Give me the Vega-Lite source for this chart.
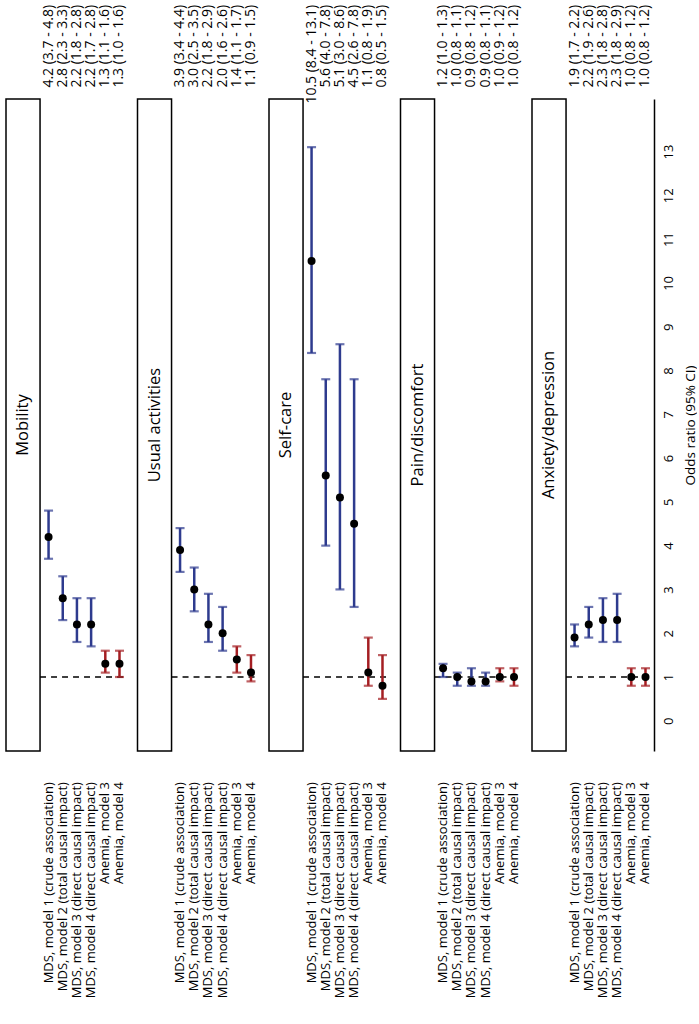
{
  "$schema": "https://vega.github.io/schema/vega-lite/v6.json",
  "autosize": {"type": "pad"},
  "padding": {"left": 5, "top": 4, "right": 0, "bottom": 0},
  "config": {"view": {"stroke": null}, "font": "Open Sans", "text": {"font": "Open Sans"}},
  "data": {"values": [
    {"dim": "Mobility", "row": 1, "label": "MDS, model 1 (crude association)", "group": "MDS", "or": 4.2, "lo": 3.7, "hi": 4.8, "ci": "4.2 (3.7 - 4.8)"},
    {"dim": "Mobility", "row": 2, "label": "MDS, model 2 (total causal impact)", "group": "MDS", "or": 2.8, "lo": 2.3, "hi": 3.3, "ci": "2.8 (2.3 - 3.3)"},
    {"dim": "Mobility", "row": 3, "label": "MDS, model 3 (direct causal impact)", "group": "MDS", "or": 2.2, "lo": 1.8, "hi": 2.8, "ci": "2.2 (1.8 - 2.8)"},
    {"dim": "Mobility", "row": 4, "label": "MDS, model 4 (direct causal impact)", "group": "MDS", "or": 2.2, "lo": 1.7, "hi": 2.8, "ci": "2.2 (1.7 - 2.8)"},
    {"dim": "Mobility", "row": 5, "label": "Anemia, model 3", "group": "Anemia", "or": 1.3, "lo": 1.1, "hi": 1.6, "ci": "1.3 (1.1 - 1.6)"},
    {"dim": "Mobility", "row": 6, "label": "Anemia, model 4", "group": "Anemia", "or": 1.3, "lo": 1.0, "hi": 1.6, "ci": "1.3 (1.0 - 1.6)"},
    {"dim": "Usual activities", "row": 1, "label": "MDS, model 1 (crude association)", "group": "MDS", "or": 3.9, "lo": 3.4, "hi": 4.4, "ci": "3.9 (3.4 - 4.4)"},
    {"dim": "Usual activities", "row": 2, "label": "MDS, model 2 (total causal impact)", "group": "MDS", "or": 3.0, "lo": 2.5, "hi": 3.5, "ci": "3.0 (2.5 - 3.5)"},
    {"dim": "Usual activities", "row": 3, "label": "MDS, model 3 (direct causal impact)", "group": "MDS", "or": 2.2, "lo": 1.8, "hi": 2.9, "ci": "2.2 (1.8 - 2.9)"},
    {"dim": "Usual activities", "row": 4, "label": "MDS, model 4 (direct causal impact)", "group": "MDS", "or": 2.0, "lo": 1.6, "hi": 2.6, "ci": "2.0 (1.6 - 2.6)"},
    {"dim": "Usual activities", "row": 5, "label": "Anemia, model 3", "group": "Anemia", "or": 1.4, "lo": 1.1, "hi": 1.7, "ci": "1.4 (1.1 - 1.7)"},
    {"dim": "Usual activities", "row": 6, "label": "Anemia, model 4", "group": "Anemia", "or": 1.1, "lo": 0.9, "hi": 1.5, "ci": "1.1 (0.9 - 1.5)"},
    {"dim": "Self-care", "row": 1, "label": "MDS, model 1 (crude association)", "group": "MDS", "or": 10.5, "lo": 8.4, "hi": 13.1, "ci": "10.5 (8.4 - 13.1)"},
    {"dim": "Self-care", "row": 2, "label": "MDS, model 2 (total causal impact)", "group": "MDS", "or": 5.6, "lo": 4.0, "hi": 7.8, "ci": "5.6 (4.0 - 7.8)"},
    {"dim": "Self-care", "row": 3, "label": "MDS, model 3 (direct causal impact)", "group": "MDS", "or": 5.1, "lo": 3.0, "hi": 8.6, "ci": "5.1 (3.0 - 8.6)"},
    {"dim": "Self-care", "row": 4, "label": "MDS, model 4 (direct causal impact)", "group": "MDS", "or": 4.5, "lo": 2.6, "hi": 7.8, "ci": "4.5 (2.6 - 7.8)"},
    {"dim": "Self-care", "row": 5, "label": "Anemia, model 3", "group": "Anemia", "or": 1.1, "lo": 0.8, "hi": 1.9, "ci": "1.1 (0.8 - 1.9)"},
    {"dim": "Self-care", "row": 6, "label": "Anemia, model 4", "group": "Anemia", "or": 0.8, "lo": 0.5, "hi": 1.5, "ci": "0.8 (0.5 - 1.5)"},
    {"dim": "Pain/discomfort", "row": 1, "label": "MDS, model 1 (crude association)", "group": "MDS", "or": 1.2, "lo": 1.0, "hi": 1.3, "ci": "1.2 (1.0 - 1.3)"},
    {"dim": "Pain/discomfort", "row": 2, "label": "MDS, model 2 (total causal impact)", "group": "MDS", "or": 1.0, "lo": 0.8, "hi": 1.1, "ci": "1.0 (0.8 - 1.1)"},
    {"dim": "Pain/discomfort", "row": 3, "label": "MDS, model 3 (direct causal impact)", "group": "MDS", "or": 0.9, "lo": 0.8, "hi": 1.2, "ci": "0.9 (0.8 - 1.2)"},
    {"dim": "Pain/discomfort", "row": 4, "label": "MDS, model 4 (direct causal impact)", "group": "MDS", "or": 0.9, "lo": 0.8, "hi": 1.1, "ci": "0.9 (0.8 - 1.1)"},
    {"dim": "Pain/discomfort", "row": 5, "label": "Anemia, model 3", "group": "Anemia", "or": 1.0, "lo": 0.9, "hi": 1.2, "ci": "1.0 (0.9 - 1.2)"},
    {"dim": "Pain/discomfort", "row": 6, "label": "Anemia, model 4", "group": "Anemia", "or": 1.0, "lo": 0.8, "hi": 1.2, "ci": "1.0 (0.8 - 1.2)"},
    {"dim": "Anxiety/depression", "row": 1, "label": "MDS, model 1 (crude association)", "group": "MDS", "or": 1.9, "lo": 1.7, "hi": 2.2, "ci": "1.9 (1.7 - 2.2)"},
    {"dim": "Anxiety/depression", "row": 2, "label": "MDS, model 2 (total causal impact)", "group": "MDS", "or": 2.2, "lo": 1.9, "hi": 2.6, "ci": "2.2 (1.9 - 2.6)"},
    {"dim": "Anxiety/depression", "row": 3, "label": "MDS, model 3 (direct causal impact)", "group": "MDS", "or": 2.3, "lo": 1.8, "hi": 2.8, "ci": "2.3 (1.8 - 2.8)"},
    {"dim": "Anxiety/depression", "row": 4, "label": "MDS, model 4 (direct causal impact)", "group": "MDS", "or": 2.3, "lo": 1.8, "hi": 2.9, "ci": "2.3 (1.8 - 2.9)"},
    {"dim": "Anxiety/depression", "row": 5, "label": "Anemia, model 3", "group": "Anemia", "or": 1.0, "lo": 0.8, "hi": 1.2, "ci": "1.0 (0.8 - 1.2)"},
    {"dim": "Anxiety/depression", "row": 6, "label": "Anemia, model 4", "group": "Anemia", "or": 1.0, "lo": 0.8, "hi": 1.2, "ci": "1.0 (0.8 - 1.2)"}
  ]},
  "facet": {"column": {"field": "dim", "type": "nominal", "sort": ["Mobility", "Usual activities", "Self-care", "Pain/discomfort", "Anxiety/depression"], "header": null}},
  "spacing": 9.5,
  "bounds": "flush",
  "spec": {
    "width": 122,
    "height": 652,
    "layer": [
      {
        "transform": [{"filter": "datum.row == 1"}],
        "mark": {"type": "rect", "fill": "white", "stroke": "black", "strokeWidth": 1.5},
        "encoding": {
          "x": {"datum": -2, "type": "quantitative", "scale": {"domain": [-2, 6.6], "nice": false, "zero": false}, "axis": null},
          "x2": {"datum": 0.4},
          "y": {"datum": 14.2, "type": "quantitative", "scale": {"domain": [-0.69, 14.2], "nice": false, "zero": false}},
          "y2": {"datum": -0.69}
        }
      },
      {
        "transform": [{"filter": "datum.row == 1"}],
        "mark": {"type": "text", "angle": 270, "align": "center", "baseline": "middle", "fontSize": 16.5, "color": "black"},
        "encoding": {
          "x": {"datum": -0.8, "type": "quantitative"},
          "y": {"datum": 6.755, "type": "quantitative"},
          "text": {"field": "dim"}
        }
      },
      {
        "transform": [{"filter": "datum.row == 1"}],
        "mark": {"type": "rule", "strokeDash": [6, 5], "strokeWidth": 1.5, "color": "black"},
        "encoding": {
          "x": {"datum": 0.4, "type": "quantitative"},
          "x2": {"datum": 6.6},
          "y": {"datum": 1, "type": "quantitative"}
        }
      },
      {
        "mark": {"type": "rule", "strokeWidth": 2.5},
        "encoding": {
          "x": {"field": "row", "type": "quantitative"},
          "y": {"field": "lo", "type": "quantitative"},
          "y2": {"field": "hi"},
          "color": {"field": "group", "type": "nominal", "scale": {"domain": ["MDS", "Anemia"], "range": ["#2E3B8E", "#A41E22"]}, "legend": null}
        }
      },
      {
        "mark": {"type": "tick", "orient": "horizontal", "size": 9, "thickness": 2.2},
        "encoding": {
          "x": {"field": "row", "type": "quantitative"},
          "y": {"field": "lo", "type": "quantitative"},
          "color": {"field": "group", "type": "nominal", "legend": null}
        }
      },
      {
        "mark": {"type": "tick", "orient": "horizontal", "size": 9, "thickness": 2.2},
        "encoding": {
          "x": {"field": "row", "type": "quantitative"},
          "y": {"field": "hi", "type": "quantitative"},
          "color": {"field": "group", "type": "nominal", "legend": null}
        }
      },
      {
        "mark": {"type": "point", "filled": true, "shape": "circle", "size": 64, "color": "black", "opacity": 1},
        "encoding": {
          "x": {"field": "row", "type": "quantitative"},
          "y": {"field": "or", "type": "quantitative",
                "axis": {"orient": "right", "title": "Odds ratio (95% CI)", "titleAngle": 270, "titleAlign": "center", "titleAnchor": "middle", "titleFontSize": 13.5, "titleFontWeight": "normal", "titleColor": "black", "titlePadding": 22, "titleFont": "Open Sans",
                         "values": [0, 1, 2, 3, 4, 5, 6, 7, 8, 9, 10, 11, 12, 13], "ticks": false, "grid": false,
                         "domainColor": "black", "domainWidth": 1.5, "labelAngle": 270, "labelAlign": "center", "labelBaseline": "top",
                         "labelPadding": 8, "labelFontSize": 13, "labelColor": "black", "labelFont": "Open Sans"}}
        }
      },
      {
        "mark": {"type": "text", "angle": 270, "align": "right", "baseline": "middle", "fontSize": 13, "color": "black"},
        "encoding": {
          "x": {"field": "row", "type": "quantitative"},
          "y": {"datum": -1.4, "type": "quantitative"},
          "text": {"field": "label"}
        }
      },
      {
        "mark": {"type": "text", "angle": 270, "align": "right", "baseline": "middle", "fontSize": 14, "color": "black"},
        "encoding": {
          "x": {"field": "row", "type": "quantitative"},
          "y": {"datum": 16.35, "type": "quantitative"},
          "text": {"field": "ci"}
        }
      }
    ]
  }
}
